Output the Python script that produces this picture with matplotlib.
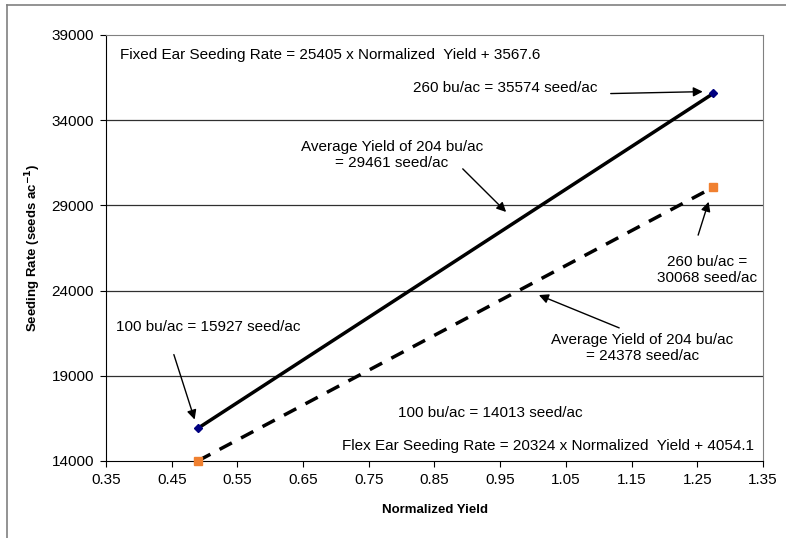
import matplotlib.pyplot as plt
from matplotlib.lines import Line2D

plt.rcParams['font.family'] = ['Liberation Sans', 'DejaVu Sans']

# data
yields = [100, 260]
avg_yield = 204
norm_yield = [y / avg_yield for y in yields]
fixed_rate = [15927, 35574]
flex_rate = [14013, 30068]

x_ticks = [0.35, 0.45, 0.55, 0.65, 0.75, 0.85, 0.95, 1.05, 1.15, 1.25, 1.35]
y_ticks = [14000, 19000, 24000, 29000, 34000, 39000]

W, H = 786, 538
fig = plt.figure(figsize=(W / 100, H / 100), dpi=100)
ax = fig.add_axes([106 / W, 1 - 461 / H, 657 / W, 426 / H])

# chart area border (only top and left visible in the screenshot)
fig.lines.append(Line2D([7 / W, 1], [1 - 5 / H, 1 - 5 / H], transform=fig.transFigure, color='#808080', lw=1.2))
fig.lines.append(Line2D([7 / W, 7 / W], [0, 1 - 5 / H], transform=fig.transFigure, color='#808080', lw=1.2))

for yt in y_ticks[1:-1]:
    ax.axhline(yt, color='#303030', lw=0.9, zorder=1)

ax.plot(norm_yield, fixed_rate, color='black', lw=2.5, zorder=3)
ax.plot(norm_yield, flex_rate, color='black', lw=2.5, ls=(0, (4, 3)), zorder=3)
ax.plot(norm_yield, fixed_rate, ls='none', marker='D', ms=4.5, color='#000080', zorder=4, clip_on=False)
ax.plot(norm_yield, flex_rate, ls='none', marker='s', ms=6, color='#f08030', zorder=4, clip_on=False)

ax.set_xlim(0.35, 1.35)
ax.set_ylim(14000, 39000)
ax.set_xticks(x_ticks)
ax.set_xticklabels(['%.2f' % v for v in x_ticks])
ax.set_yticks(y_ticks)
ax.tick_params(labelsize=11, direction='out', length=4.3, width=0.8, pad=4.3)

for s in ['top', 'right']:
    ax.spines[s].set_color('#808080')
for s in ['left', 'bottom']:
    ax.spines[s].set_color('black')

ax.set_xlabel('Normalized Yield', fontsize=9.5, fontweight='bold', labelpad=12)
ax.set_ylabel('Seeding Rate (seeds ac$^{\\mathbf{-1}}$)', fontsize=9.5, fontweight='bold', labelpad=6)

fs = 11
arrow = dict(arrowstyle='-|>', color='black', lw=1.0, mutation_scale=14)

ax.text(0.372, 37800, 'Fixed Ear Seeding Rate = 25405 x Normalized  Yield + 3567.6', fontsize=fs, va='center')
ax.text(1.337, 14900, 'Flex Ear Seeding Rate = 20324 x Normalized  Yield + 4054.1', fontsize=fs, va='center', ha='right')
ax.text(0.795, 16800, '100 bu/ac = 14013 seed/ac', fontsize=fs, va='center')

ax.text(0.957, 35900, '260 bu/ac = 35574 seed/ac', fontsize=fs, va='center', ha='center')
ax.annotate('', xy=(norm_yield[1] - 0.012, 35680), xytext=(1.114, 35560), arrowprops=arrow)

ax.text(0.785, 31950, 'Average Yield of 204 bu/ac\n= 29461 seed/ac', fontsize=fs, va='center', ha='center')
ax.annotate('', xy=(0.962, 28500), xytext=(0.89, 31260), arrowprops=arrow)

ax.text(0.505, 21850, '100 bu/ac = 15927 seed/ac', fontsize=fs, va='center', ha='center')
ax.annotate('', xy=(norm_yield[0] - 0.004, fixed_rate[0] + 350), xytext=(0.452, 20400), arrowprops=arrow)

ax.text(1.265, 25200, '260 bu/ac =\n30068 seed/ac', fontsize=fs, va='center', ha='center')
ax.annotate('', xy=(norm_yield[1] - 0.006, flex_rate[1] - 700), xytext=(1.25, 27100), arrowprops=arrow)

ax.text(1.166, 20650, 'Average Yield of 204 bu/ac\n= 24378 seed/ac', fontsize=fs, va='center', ha='center')
ax.annotate('', xy=(1.005, 23800), xytext=(1.135, 21750), arrowprops=arrow)

fig.savefig('out.png', dpi=100)
